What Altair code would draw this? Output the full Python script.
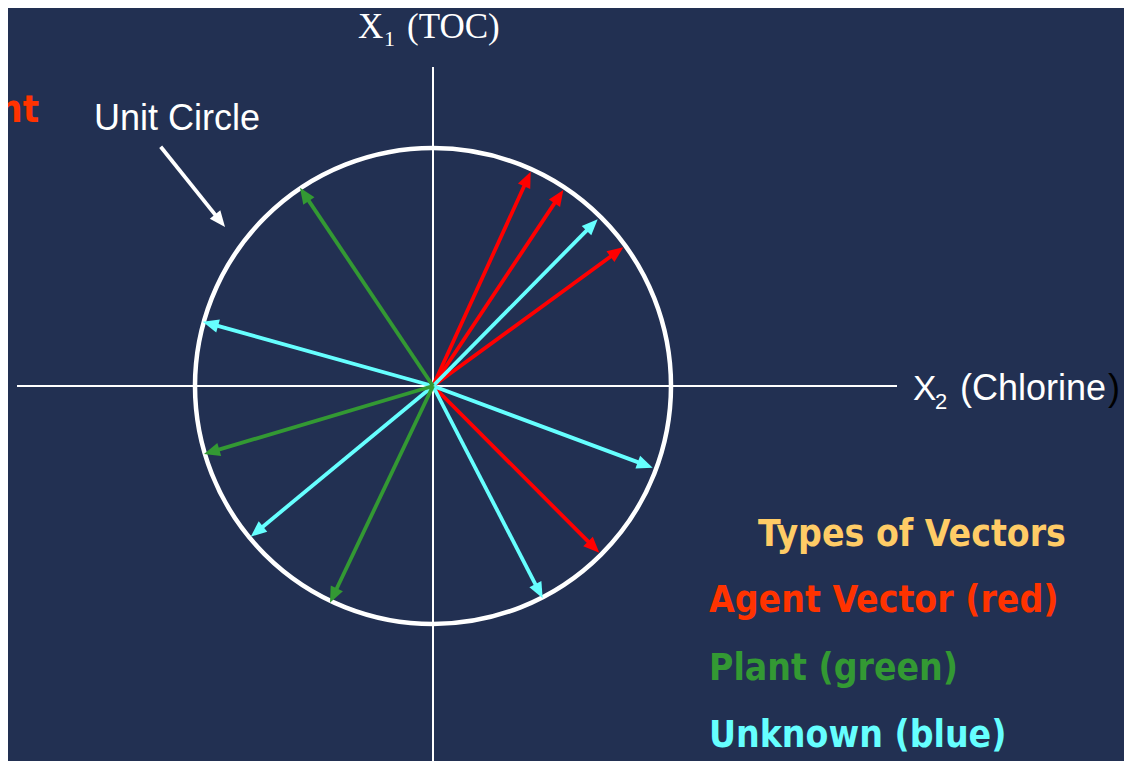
import altair as alt
import pandas as pd
import numpy as np

# ---- data: arrow tips of the vectors (unit-circle coordinates) ----
vec_type = ["Agent", "Agent", "Agent", "Agent",
            "Unknown", "Unknown", "Unknown", "Unknown", "Unknown",
            "Plant", "Plant", "Plant"]
vec_x = [0.4105, 0.5475, 0.7996, 0.6987,
         0.6920, -0.9676, 0.9231, -0.7660, 0.4609,
         -0.5588, -0.9622, -0.4328]
vec_y = [0.9004, 0.8235, 0.5828, -0.7004,
         0.7004, 0.2702, -0.3433, -0.6332, -0.8920,
         0.8332, -0.2857, -0.9105]

type_names = ["Agent", "Plant", "Unknown"]
type_colors = ["#FF0000", "#339933", "#66FFFF"]

# annotation arrow ("Unit Circle" pointer), in the same units
note_start = [-1.1441, 1.0055]
note_tip = [-0.8739, 0.6681]

# axis lines
axis_x1 = [-1.7479, 0.0]
axis_x2 = [1.9496, 0.0]
axis_y1 = [0.0, 1.3403]
axis_y2 = [0.0, -1.70]

BG = "#223052"
W, H = 1116, 753
PX = 238.0                      # pixels per unit
CX, CY = 425.0, 378.0           # centre inside the plot area
xs = alt.Scale(domain=[-CX / PX, (W - CX) / PX], nice=False, zero=False)
ys = alt.Scale(domain=[-(H - CY) / PX, CY / PX], nice=False, zero=False)

def X(f="x"):
    return alt.X(f"{f}:Q", scale=xs, axis=None)

def Y(f="y"):
    return alt.Y(f"{f}:Q", scale=ys, axis=None)

# ---- tables ----
vec = pd.DataFrame({"type": vec_type, "x": vec_x, "y": vec_y})
ln = np.hypot(vec["x"], vec["y"])
shrink = 1 - (11.0 / PX) / ln
vec["xe"] = vec["x"] * shrink
vec["ye"] = vec["y"] * shrink
vec["x0"] = 0.0
vec["y0"] = 0.0
vec["ang"] = (np.degrees(np.arctan2(vec["x"], vec["y"])) + 360) % 360

color = alt.Color("type:N", scale=alt.Scale(domain=type_names, range=type_colors), legend=None)

axes_df = pd.DataFrame({"x": [axis_x1[0], axis_x1[1]], "x2": [axis_x2[0], axis_x2[1]],
                        "y": [axis_y1[0], axis_y1[1]], "y2": [axis_y2[0], axis_y2[1]]})

axes = alt.Chart(axes_df).mark_rule(color="white", strokeWidth=2).encode(
    x=X("x"), x2="x2", y=Y("y"), y2="y2")

circle = alt.Chart(pd.DataFrame({"x": [0.0], "y": [0.0]})).mark_point(
    shape="circle", filled=False, color="white", strokeWidth=4.5, opacity=1,
    size=(2 * PX) ** 2).encode(x=X(), y=Y())

shafts = alt.Chart(vec).mark_rule(strokeWidth=3.8).encode(
    x=X("x0"), y=Y("y0"), x2="xe", y2="ye", color=color)

HEAD = "M0,0L-0.55,1.3L0.55,1.3Z"
heads = alt.Chart(vec).mark_point(shape=HEAD, filled=True, size=600, opacity=1).encode(
    x=X(), y=Y(), angle=alt.Angle("ang:Q", scale=None), color=color)

nd = pd.DataFrame({"x0": [note_start[0]], "y0": [note_start[1]],
                   "x": [note_tip[0]], "y": [note_tip[1]]})
dxn, dyn = note_tip[0] - note_start[0], note_tip[1] - note_start[1]
nl = np.hypot(dxn, dyn)
nd["xe"] = nd["x"] - dxn / nl * 11.0 / PX
nd["ye"] = nd["y"] - dyn / nl * 11.0 / PX
nd["ang"] = (np.degrees(np.arctan2(dxn, dyn)) + 360) % 360
note_line = alt.Chart(nd).mark_rule(color="white", strokeWidth=3.8).encode(
    x=X("x0"), y=Y("y0"), x2="xe", y2="ye")
note_head = alt.Chart(nd).mark_point(shape=HEAD, filled=True, size=600, color="white",
                                     opacity=1).encode(
    x=X(), y=Y(), angle=alt.Angle("ang:Q", scale=None))


def label(text, px, py, size, col, font, weight="normal", align="left"):
    d = pd.DataFrame({"x": [(px - 433) / PX], "y": [(386 - py) / PX], "t": [text]})
    return alt.Chart(d).mark_text(align=align, baseline="alphabetic", fontSize=size,
                                  font=font, fontWeight=weight, color=col).encode(
        x=X(), y=Y(), text="t:N")

SERIF = "Liberation Serif"
SANS = "Liberation Sans"
BOLD = "DejaVu Sans Condensed"

texts = [
    label("X", 358, 38, 35, "white", SERIF),
    label("1", 384, 46, 22, "white", SERIF),
    label("(TOC)", 407, 38, 35, "white", SERIF),
    label("X", 913, 400, 35, "white", SANS),
    label("2", 935, 409, 22, "white", SANS),
    label("(Chlorine", 960, 400, 36, "white", SANS),
    label(")", 1108, 400, 36, "#000000", SANS),
    label("Unit Circle", 94, 130, 36, "white", SANS),
    label("Agent", 39, 122, 38, "#FF3300", BOLD, "bold", "right"),
    label("Types of Vectors", 912, 546, 37, "#FFCC66", BOLD, "bold", "center"),
    label("Agent Vector (red)", 709, 612, 37, "#FF3300", BOLD, "bold"),
    label("Plant (green)", 709, 680, 37, "#339933", BOLD, "bold"),
    label("Unknown (blue)", 709, 747, 37, "#66FFFF", BOLD, "bold"),
]

chart = alt.layer(axes, circle, shafts, heads, note_line, note_head, *texts).properties(
    width=W, height=H, background=BG,
    autosize=alt.AutoSizeParams(type="none"), padding=0,
).configure_view(stroke=None, fill=BG)

chart.save("out.html", embed_options={"renderer": "svg", "actions": False})
